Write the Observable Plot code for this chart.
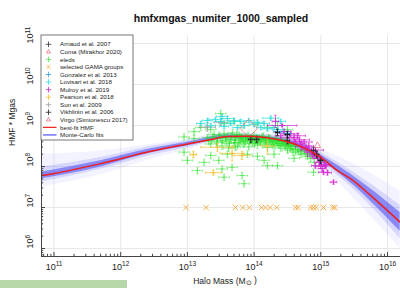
<!DOCTYPE html>
<html><head><meta charset="utf-8">
<script src="https://cdn.jsdelivr.net/npm/d3@7"></script>
<script src="https://cdn.jsdelivr.net/npm/@observablehq/plot@0.6"></script>
<style>
body{margin:0;background:#fff;}
#wrap{position:relative;width:400px;height:288px;overflow:hidden;font-family:"Liberation Sans",Arial,sans-serif;}
#strip{position:absolute;left:0;top:280px;width:127px;height:8px;background:#b6d7a8;}
svg{position:absolute;left:0;top:0;}
</style></head><body><div id="wrap"></div>
<script>
// ---------- text ----------
const titleText = "hmfxmgas_numiter_1000_sampled";
const xLabel = "Halo Mass (M⊙ )";
const yLabel = "HMF * Mgas";
// tick exponents (log10)
const xTickExp = [11, 12, 13, 14, 15, 16];
const yTickExp = [6, 7, 8, 9, 10, 11];
const xDomainExp = [10.8126, 16.195];
const yDomainExp = [5.805, 11.195];

// ---------- best-fit HMF (log10 M, log10 HMF*Mgas) ----------
const fitLogM = [10.81, 11.0, 11.70, 12.45, 13.0, 13.35, 13.60, 13.87, 14.17, 14.44, 14.70, 15.0, 15.25, 15.45, 15.75, 16.19];
const fitLogY = [7.78, 7.83, 8.07, 8.37, 8.55, 8.66, 8.73, 8.74, 8.71, 8.63, 8.49, 8.22, 7.90, 7.70, 7.29, 6.64];

// ---------- Monte-Carlo fit envelopes ----------
const mcLogM   = [10.81, 11.70, 12.45, 13.0, 13.60, 14.17, 14.70, 15.0, 15.45, 16.19];
const mcOuterLo = [7.50, 7.80, 8.17, 8.40, 8.64, 8.62, 8.36, 8.02, 7.30, 6.00];
const mcOuterHi = [8.30, 8.38, 8.54, 8.67, 8.82, 8.79, 8.62, 8.42, 8.10, 7.40];
const mcInnerLo = [7.62, 7.93, 8.27, 8.46, 8.66, 8.63, 8.39, 8.10, 7.51, 6.24];
const mcInnerHi = [7.98, 8.22, 8.49, 8.63, 8.80, 8.78, 8.59, 8.34, 7.90, 7.05];
const mcCoreLo  = [7.70, 7.99, 8.33, 8.50, 8.69, 8.66, 8.44, 8.16, 7.60, 6.42];
const mcCoreHi  = [7.86, 8.14, 8.43, 8.59, 8.77, 8.74, 8.54, 8.28, 7.81, 6.88];

// ---------- data sets (log10 values, errors in dex) ----------
const eledsM = [13.50,13.10,12.95,13.20,13.35,13.55,13.70,13.85,14.05,14.20,14.35,14.50,13.10,
  13.30,13.35,13.40,13.45,13.50,13.52,13.55,13.58,13.60,13.62,13.65,13.68,13.70,13.72,13.75,13.78,13.80,13.82,13.85,13.88,13.90,13.92,13.95,13.98,14.00,14.02,14.05,14.08,14.10,14.12,14.15,14.18,14.20,14.22,14.25,14.28,14.30,14.32,14.35,14.38,14.40,14.42,14.45,14.48,14.50,14.52,14.55,14.58,14.60,14.65,14.70,14.75,14.80,14.85,14.90,
  13.32,13.38,13.44,13.48,13.53,13.57,13.63,13.66,13.71,13.74,13.77,13.81,13.84,13.87,13.91,13.94,13.97,14.01,14.04,14.07,14.11,14.14,14.17,14.21,14.24,14.27,14.31,14.34,14.37,14.41,14.44,14.47,14.51,14.54,14.57,14.62,14.67,14.72,14.78,14.83,
  13.15,13.35,13.52,13.55,13.85,13.47,13.72,13.67,13.82,14.35,14.20,14.89,12.95,13.25,13.60,13.90,14.05,14.30,14.60,14.15,13.00];
const eledsY = [9.29,8.85,8.72,8.95,8.90,9.05,9.10,9.00,9.05,8.95,9.00,8.90,8.68,
  8.70,8.55,8.78,8.62,8.70,8.50,8.80,8.60,8.72,8.45,8.66,8.82,8.58,8.70,8.50,8.76,8.62,8.68,8.55,8.72,8.64,8.48,8.70,8.58,8.75,8.62,8.52,8.68,8.60,8.72,8.55,8.65,8.46,8.70,8.58,8.62,8.50,8.68,8.56,8.62,8.45,8.60,8.52,8.58,8.40,8.55,8.48,8.35,8.50,8.42,8.30,8.38,8.25,8.20,8.10,
  8.62,8.72,8.58,8.76,8.64,8.70,8.56,8.74,8.64,8.78,8.58,8.72,8.66,8.60,8.76,8.62,8.68,8.56,8.70,8.62,8.66,8.74,8.60,8.64,8.68,8.54,8.60,8.64,8.52,8.56,8.62,8.50,8.52,8.44,8.50,8.40,8.36,8.40,8.32,8.28,
  7.90,8.27,7.94,7.74,7.58,8.15,8.47,7.98,7.78,8.02,8.02,7.86,8.35,8.10,8.30,8.30,8.25,8.30,8.20,8.15,8.15];
const eledsErrM = 0.08;
const eledsErrY = 0.08;

const lovisariM = [13.20,13.30,13.35,13.42,13.50,13.52,13.55,13.60,13.65,13.70,13.75,13.80,13.85,13.92,14.00,14.05,14.10,14.15,14.20,14.25,14.30,14.35,14.40,14.45];
const lovisariY = [9.05,9.12,9.00,9.15,9.10,9.22,8.98,9.17,9.05,9.12,8.95,9.10,9.00,9.12,9.02,9.08,8.95,9.05,8.92,9.18,8.95,8.90,9.10,8.85];
const lovisariErrM = [0.06,0.08,0.07,0.10,0.06,0.08,0.07,0.10,0.06,0.08,0.07,0.09,0.06,0.08,0.07,0.10,0.06,0.08,0.07,0.12,0.06,0.08,0.07,0.06];
const lovisariErrY = 0.05;

const mulroyM = [14.42,14.32,14.45,14.55,14.60,14.62,14.68,14.70,14.72,14.75,14.78,14.80,14.82,14.85,14.88,14.90,14.92,14.95,14.98,15.00,15.02,15.05,15.07,15.10,15.19,14.50,14.40,14.65,14.92,15.04];
const mulroyY = [9.00,9.10,8.85,8.80,8.70,8.60,8.65,8.55,8.48,8.60,8.45,8.40,8.50,8.35,8.30,8.25,8.40,8.20,8.10,8.00,7.95,8.05,8.02,7.85,7.62,8.70,8.75,8.75,8.02,7.86];
const mulroyErrM = [0.22,0.05,0.10,0.12,0.08,0.10,0.15,0.08,0.10,0.12,0.08,0.10,0.07,0.09,0.08,0.10,0.12,0.08,0.07,0.09,0.06,0.08,0.07,0.06,0.05,0.10,0.08,0.12,0.06,0.07];
const mulroyErrY = [0.03,0.15,0.06,0.06,0.08,0.06,0.05,0.07,0.06,0.05,0.07,0.06,0.08,0.06,0.07,0.05,0.06,0.07,0.06,0.05,0.07,0.06,0.05,0.06,0.05,0.06,0.05,0.06,0.06,0.05];

const gonzalezM = [14.35, 14.50];
const gonzalezY = [8.85, 8.80];
const gonzalezErrM = [0.06, 0.05];
const gonzalezErrY = [0.05, 0.05];

const sunM = [13.30, 13.50];
const sunY = [8.96, 9.08];
const sunErrM = [0.12, 0.10];
const sunErrY = [0.10, 0.08];

const arnaudM = [13.95, 14.04, 14.50, 14.89];
const arnaudY = [8.66, 8.66, 8.63, 8.39];
const vikhlininM = [14.35, 14.50, 14.94, 15.00];
const vikhlininY = [8.83, 8.78, 8.29, 8.15];
const blackErrM = 0.03;
const blackErrY = 0.08;

const pearsonM = [13.09, 13.39, 13.67, 13.82, 13.45, 14.20];
const pearsonY = [8.29, 7.85, 8.32, 8.27, 8.47, 8.50];
const pearsonErrM = [0.05, 0.12, 0.18, 0.12, 0.25, 0.10];
const pearsonErrY = [0.08, 0.06, 0.18, 0.10, 0.10, 0.20];

const gamaM = [12.98,13.28,13.72,13.83,13.93,14.11,14.17,14.24,14.34,14.62,14.66,14.85,14.89,14.93,15.04,15.18,15.21];
const gamaY = [7.0,7.0,7.0,7.0,7.0,7.0,7.0,7.0,7.0,7.0,7.0,7.0,7.0,7.0,7.0,7.0,7.0];

const comaM = [13.92];
const comaY = [8.93];
const virgoM = [14.95];
const virgoY = [8.51];

// ---------- legend ----------
const legendNames = ["Arnaud et al. 2007","Coma (Mirakhor 2020)","eleds","selected GAMA groups","Gonzalez et al. 2013","Lovisari et al. 2018","Mulroy et al. 2019","Pearson et al. 2018","Sun et al. 2009","Vikhlinin et al. 2006","Virgo (Simionescu 2017)","best-fit HMF","Monte-Carlo fits"];
const legendKinds = ["plus","triangle","plus","times","plus","plus","plus","plus","plus","plus","triangle","line","line"];
const legendColors = ["#333333","#e8727f","#4de84d","#f2a53a","#3a9cf0","#33dede","#d326d3","#f0c030","#a0a0a0","#222222","#e8727f","#ee1c1c","#7b7bff"];

// ---------- helpers ----------
const p10 = v => Math.pow(10, v);
const vCap = {draw(ctx, size){const r=Math.sqrt(size/Math.PI); ctx.moveTo(0,-r); ctx.lineTo(0,r);}};
const hCap = {draw(ctx, size){const r=Math.sqrt(size/Math.PI); ctx.moveTo(-r,0); ctx.lineTo(r,0);}};
const pick = (a, i) => Array.isArray(a) ? a[i] : a;

function errGroup(M, Y, dM, dY, color, {opacity = 1, sym = "plus", r = 2, width = 0.8, cap = 1.2} = {}) {
  const idx = d3.range(M.length);
  const common = {stroke: color, strokeOpacity: opacity, strokeWidth: width, clip: true};
  const hEnds = idx.flatMap(i => [[M[i]-pick(dM,i), Y[i]], [M[i]+pick(dM,i), Y[i]]]);
  const vEnds = idx.flatMap(i => [[M[i], Y[i]-pick(dY,i)], [M[i], Y[i]+pick(dY,i)]]);
  return [
    Plot.link(idx, {x1: i => p10(M[i]-pick(dM,i)), x2: i => p10(M[i]+pick(dM,i)), y1: i => p10(Y[i]), y2: i => p10(Y[i]), ...common}),
    Plot.link(idx, {x1: i => p10(M[i]), x2: i => p10(M[i]), y1: i => p10(Y[i]-pick(dY,i)), y2: i => p10(Y[i]+pick(dY,i)), ...common}),
    Plot.dot(hEnds, {x: d => p10(d[0]), y: d => p10(d[1]), symbol: vCap, r: cap, fill: "none", ...common}),
    Plot.dot(vEnds, {x: d => p10(d[0]), y: d => p10(d[1]), symbol: hCap, r: cap, fill: "none", ...common}),
    Plot.dot(idx, {x: i => p10(M[i]), y: i => p10(Y[i]), symbol: sym, r, fill: "none", ...common})
  ];
}

const majorX = xTickExp.map(p10);
const majorY = yTickExp.map(p10);
const minorX = [], minorY = [];
for (let e = 10; e <= 16; e++) for (let k = 2; k <= 9; k++) {
  const v = k * p10(e);
  if (v > p10(xDomainExp[0]) && v < p10(xDomainExp[1])) minorX.push(v);
}
for (let e = 5; e <= 11; e++) for (let k = 2; k <= 9; k++) {
  const v = k * p10(e);
  if (v > p10(yDomainExp[0]) && v < p10(yDomainExp[1])) minorY.push(v);
}
const expFmt = d => "10^" + Math.round(Math.log10(d));
const mcIdx = d3.range(mcLogM.length);
const fitIdx = d3.range(fitLogM.length);

const chart = Plot.plot({
  width: 400, height: 288,
  marginLeft: 41, marginRight: 0, marginTop: 35, marginBottom: 32,
  style: {fontFamily: '"Liberation Sans", Arial, sans-serif', background: "white", overflow: "visible"},
  x: {type: "log", domain: xDomainExp.map(p10), axis: null},
  y: {type: "log", domain: yDomainExp.map(p10), axis: null},
  marks: [
    Plot.ruleX(majorX, {stroke: "#e8e8e8", strokeWidth: 1}),
    Plot.ruleY(majorY, {stroke: "#e8e8e8", strokeWidth: 1}),
    // Monte-Carlo band
    Plot.areaY(mcIdx, {x: i => p10(mcLogM[i]), y1: i => p10(mcOuterLo[i]), y2: i => p10(mcOuterHi[i]), fill: "#9a9aff", fillOpacity: 0.12, curve: "monotone-x", clip: true}),
    Plot.areaY(mcIdx, {x: i => p10(mcLogM[i]), y1: i => p10(mcInnerLo[i]), y2: i => p10(mcInnerHi[i]), fill: "#7070ff", fillOpacity: 0.22, curve: "monotone-x", clip: true}),
    Plot.areaY(mcIdx, {x: i => p10(mcLogM[i]), y1: i => p10(mcCoreLo[i]), y2: i => p10(mcCoreHi[i]), fill: "#3a3af0", fillOpacity: 0.5, curve: "monotone-x", clip: true}),
    // data
    ...errGroup(gamaM, gamaY, 0, 0, legendColors[3], {sym: "times", r: 2.6, width: 0.9, cap: 0}),
    ...errGroup(eledsM, eledsY, eledsErrM, eledsErrY, "#22e022", {opacity: 0.5, r: 1.8}),
    ...errGroup(pearsonM, pearsonY, pearsonErrM, pearsonErrY, legendColors[7], {opacity: 0.9, r: 2}),
    ...errGroup(sunM, sunY, sunErrM, sunErrY, legendColors[8], {r: 2}),
    ...errGroup(lovisariM, lovisariY, lovisariErrM, lovisariErrY, legendColors[5], {opacity: 0.85, r: 2}),
    ...errGroup(mulroyM, mulroyY, mulroyErrM, mulroyErrY, legendColors[6], {opacity: 0.85, r: 2}),
    ...errGroup(gonzalezM, gonzalezY, gonzalezErrM, gonzalezErrY, legendColors[4], {r: 2}),
    ...errGroup(arnaudM, arnaudY, blackErrM, blackErrY, legendColors[0], {r: 2, width: 0.9}),
    ...errGroup(vikhlininM, vikhlininY, blackErrM, blackErrY, legendColors[9], {r: 2, width: 0.9}),
    Plot.dot(comaM.map((m, i) => [m, comaY[i]]), {x: d => p10(d[0]), y: d => p10(d[1]), symbol: "diamond2", r: 8, stroke: legendColors[1], fill: "none", strokeWidth: 0.8}),
    Plot.dot(virgoM.map((m, i) => [m, virgoY[i]]), {x: d => p10(d[0]), y: d => p10(d[1]), symbol: "triangle2", r: 3, stroke: legendColors[10], fill: "none", strokeWidth: 0.8}),
    // best fit
    Plot.line(fitIdx, {x: i => p10(fitLogM[i]), y: i => p10(fitLogY[i]), stroke: legendColors[11], strokeWidth: 1.5, curve: "monotone-x", clip: true}),
    // axes lines
    Plot.ruleY([p10(yDomainExp[0])], {stroke: "#444", strokeWidth: 1}),
    Plot.ruleX([p10(xDomainExp[0])], {stroke: "#444", strokeWidth: 1}),
    Plot.axisX({ticks: majorX, tickSize: -4, tickFormat: () => "", stroke: "#444"}),
    Plot.axisX({ticks: minorX, tickSize: -2.2, tickFormat: () => "", stroke: "#444"}),
    Plot.axisY({anchor: "left", ticks: majorY, tickSize: -4, tickFormat: () => "", stroke: "#444"}),
    Plot.axisY({anchor: "left", ticks: minorY, tickSize: -2.2, tickFormat: () => "", stroke: "#444"}),
    // tick labels
    Plot.text(majorX, {x: d => d, text: expFmt, frameAnchor: "bottom", dy: 13, fontSize: 9, fill: "#222"}),
    Plot.text(majorY, {y: d => d, text: expFmt, frameAnchor: "left", dx: -11, rotate: -90, fontSize: 9, fill: "#222"}),
    // titles
    Plot.text([titleText], {frameAnchor: "top", dy: -21, fontSize: 10.5, fontWeight: "bold", fill: "#111"}),
    Plot.text([xLabel], {frameAnchor: "bottom", dy: 27, dx: 4, fontSize: 8.5, fill: "#222"}),
    Plot.text([yLabel], {frameAnchor: "left", dx: -29, rotate: -90, fontSize: 8.5, fill: "#222"})
  ]
});

const wrap = document.getElementById("wrap");
wrap.appendChild(chart);
const strip = document.createElement("div");
strip.id = "strip";
wrap.appendChild(strip);

const svg = d3.select(chart);
// superscripts / sun symbol
svg.selectAll("text").each(function() {
  const t = this.textContent;
  const el = d3.select(this);
  if (/^10\^\d+$/.test(t)) {
    const e = t.split("^")[1];
    el.text(null);
    el.append("tspan").text("10");
    el.append("tspan").attr("dy", "-0.5em").attr("font-size", "0.72em").text(e);
  } else if (t.includes("⊙")) {
    const [a, b] = t.split("⊙");
    el.text(null);
    el.append("tspan").text(a);
    el.append("tspan").attr("dy", "0.25em").attr("font-size", "0.8em").text("⊙");
    el.append("tspan").attr("dy", "-0.25em").text(b);
  }
});

// legend
const lg = svg.append("g").attr("font-family", '"Liberation Sans", Arial, sans-serif').attr("text-anchor", "start");
lg.append("rect").attr("x", 41).attr("y", 35).attr("width", 92).attr("height", 105)
  .attr("fill", "white").attr("stroke", "#555").attr("stroke-width", 0.8);
legendNames.forEach((name, i) => {
  const y = 44.3 + i * 7.55;
  const c = legendColors[i];
  const k = legendKinds[i];
  if (k === "line") {
    lg.append("line").attr("x1", 43).attr("x2", 56.5).attr("y1", y).attr("y2", y)
      .attr("stroke", c).attr("stroke-width", i === 12 ? 1.6 : 1.2);
  } else {
    const type = k === "plus" ? d3.symbolPlus : k === "times" ? d3.symbolTimes : d3.symbolTriangle2;
    lg.append("path").attr("d", d3.symbol(type, 12)())
      .attr("transform", `translate(48.5,${y})`).attr("fill", "none").attr("stroke", c).attr("stroke-width", 0.8);
  }
  lg.append("text").attr("x", 60).attr("y", y).attr("dy", "0.35em").attr("font-size", 6.2).attr("text-anchor", "start").attr("fill", "#222").text(name);
});
</script>
</body></html>
